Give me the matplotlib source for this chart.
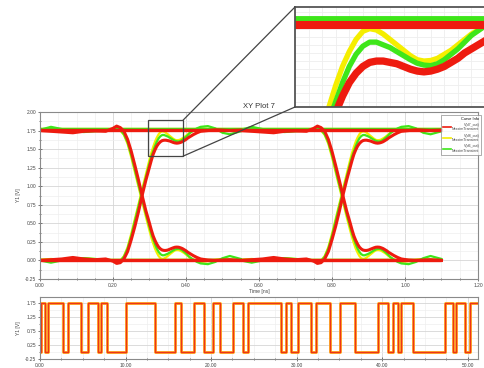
import matplotlib
matplotlib.use("Agg")
import matplotlib.pyplot as plt
from matplotlib.patches import Rectangle, ConnectionPatch
from matplotlib.ticker import MultipleLocator, AutoMinorLocator
from matplotlib.lines import Line2D
import numpy as np

plt.rcParams['font.family'] = ['Liberation Sans', 'DejaVu Sans']

# ---- eye diagram data (one unit interval, times in ns) ----
t_ui = [0.00, 0.03, 0.06, 0.09, 0.12, 0.15, 0.18, 0.20, 0.21, 0.22, 0.23, 0.24,
        0.25, 0.26, 0.27, 0.28, 0.29, 0.30, 0.305, 0.31, 0.315, 0.32, 0.325,
        0.33, 0.335, 0.34, 0.345, 0.35, 0.355, 0.36, 0.365, 0.37, 0.375, 0.38,
        0.385, 0.39, 0.395, 0.40, 0.405, 0.41, 0.42, 0.43, 0.44, 0.46, 0.48,
        0.50, 0.52, 0.55]
ui_starts = [0.00, 0.55]

red_rise = [0.00, 0.01, 0.02, 0.04, 0.02, 0.01, 0.02, -0.01, -0.04, -0.03, 0.02, 0.12,
            0.28, 0.46, 0.66, 0.88, 1.08, 1.26, 1.35, 1.43, 1.49, 1.54, 1.575,
            1.60, 1.615, 1.62, 1.62, 1.615, 1.61, 1.60, 1.59, 1.583, 1.58, 1.583,
            1.59, 1.60, 1.615, 1.63, 1.65, 1.665, 1.695, 1.72, 1.74, 1.75, 1.76,
            1.755, 1.75, 1.755]
yel_rise = [0.01, 0.02, 0.01, 0.02, 0.03, 0.02, 0.01, 0.00, -0.01, 0.00, 0.06, 0.18,
            0.36, 0.56, 0.76, 0.96, 1.16, 1.36, 1.45, 1.53, 1.60, 1.655, 1.70,
            1.73, 1.74, 1.735, 1.72, 1.70, 1.68, 1.66, 1.64, 1.625, 1.62, 1.622,
            1.63, 1.645, 1.66, 1.68, 1.70, 1.72, 1.75, 1.77, 1.78, 1.77, 1.75,
            1.74, 1.75, 1.765]
grn_rise = [0.00, -0.03, 0.00, 0.02, 0.03, 0.02, 0.01, 0.00, -0.02, -0.01, 0.05, 0.16,
            0.33, 0.53, 0.73, 0.93, 1.12, 1.31, 1.40, 1.47, 1.54, 1.60, 1.645,
            1.675, 1.69, 1.69, 1.68, 1.67, 1.655, 1.64, 1.625, 1.612, 1.605, 1.603,
            1.61, 1.625, 1.645, 1.665, 1.69, 1.715, 1.75, 1.78, 1.80, 1.81, 1.78,
            1.72, 1.70, 1.74]

red_fall = [1.75, 1.74, 1.73, 1.72, 1.74, 1.745, 1.74, 1.78, 1.81, 1.79, 1.74, 1.63,
            1.47, 1.28, 1.08, 0.87, 0.67, 0.50, 0.41, 0.33, 0.27, 0.22, 0.18,
            0.155, 0.14, 0.135, 0.135, 0.14, 0.15, 0.16, 0.17, 0.178, 0.18, 0.178,
            0.17, 0.16, 0.145, 0.13, 0.11, 0.095, 0.065, 0.04, 0.02, 0.005, 0.00,
            0.005, 0.01, 0.00]
yel_fall = [1.76, 1.75, 1.76, 1.75, 1.74, 1.75, 1.76, 1.77, 1.78, 1.75, 1.69, 1.57,
            1.39, 1.19, 0.99, 0.79, 0.59, 0.40, 0.31, 0.23, 0.16, 0.105, 0.06,
            0.03, 0.02, 0.025, 0.04, 0.06, 0.08, 0.10, 0.12, 0.135, 0.14, 0.138,
            0.13, 0.115, 0.10, 0.08, 0.06, 0.04, 0.01, -0.01, -0.02, -0.01, 0.01,
            0.02, 0.01, 0.00]
grn_fall = [1.76, 1.80, 1.77, 1.74, 1.73, 1.74, 1.75, 1.76, 1.78, 1.76, 1.70, 1.59,
            1.42, 1.22, 1.02, 0.82, 0.63, 0.45, 0.36, 0.29, 0.22, 0.16, 0.115,
            0.085, 0.07, 0.07, 0.08, 0.09, 0.105, 0.12, 0.135, 0.148, 0.155, 0.157,
            0.15, 0.135, 0.115, 0.095, 0.07, 0.045, 0.01, -0.02, -0.04, -0.05, -0.02,
            0.03, 0.06, 0.02]

# steady levels (long runs of equal bits)
high_level = {'yellow': 1.768, 'green': 1.775, 'red': 1.755}
low_level = {'yellow': 0.006, 'green': 0.010, 'red': 0.000}
t_end = 1.10

# ---- bit stream (bottom plot), edge times in ns and levels in V ----
bit_t = [0.0, 0.15, 0.58, 0.93, 2.69, 3.27, 4.79, 5.61, 6.78, 7.13, 7.83, 10.05,
         13.43, 15.77, 16.47, 17.99, 19.16, 20.21, 21.03, 22.55, 23.71, 24.30,
         28.15, 28.74, 29.32, 30.14, 31.66, 32.24, 33.88, 35.05, 36.80, 39.49,
         40.65, 41.24, 41.82, 42.17, 43.57, 47.31, 48.25, 48.60, 49.65, 50.23, 51.2]
bit_v = [0.0, 1.75, 0.0, 1.75, 0.0, 1.75, 0.0, 1.75, 0.0, 1.75, 0.0, 1.75,
         0.0, 1.75, 0.0, 1.75, 0.0, 1.75, 0.0, 1.75, 0.0, 1.75,
         0.0, 1.75, 0.0, 1.75, 0.0, 1.75, 0.0, 1.75, 0.0, 1.75,
         0.0, 1.75, 0.0, 1.75, 0.0, 1.75, 0.0, 1.75, 0.0, 1.75, 1.75]

series_names = ["V(d7_out)\nNexximTransient", "V(d8_out)\nNexximTransient",
                "V(d6_out)\nNexximTransient"]
colors = {'red': '#ee1b0f', 'yellow': '#f5ee00', 'green': '#3ee61a'}
GRID_MAJ = '#d6d6d6'
GRID_MIN = '#eeeeee'
SPINE = '#8a8a8a'
TXT = '#444444'


def draw_eye(a, scale):
    traces = [('yellow', yel_rise, yel_fall, 1.6),
              ('green', grn_rise, grn_fall, 1.6),
              ('red', red_rise, red_fall, 2.2)]
    for name, rise, fall, lw in traces:
        c = colors[name]
        a.plot([0, t_end], [high_level[name]] * 2, color=c, lw=lw * scale * 1.1,
               solid_capstyle='butt')
        a.plot([0, t_end], [low_level[name]] * 2, color=c, lw=lw * scale * 1.1,
               solid_capstyle='butt')
        for s in ui_starts:
            tt = np.array(t_ui) + s
            a.plot(tt, rise, color=c, lw=lw * scale)
            a.plot(tt, fall, color=c, lw=lw * scale)


fig = plt.figure(figsize=(4.85, 3.68), dpi=100)

# main eye plot
ax = fig.add_axes([40 / 485, 89 / 368, 438 / 485, 167 / 368])
draw_eye(ax, 1.0)
ax.set_xlim(0, 1.2)
ax.set_ylim(-0.25, 2.0)
ax.xaxis.set_major_locator(MultipleLocator(0.2))
ax.xaxis.set_minor_locator(AutoMinorLocator(4))
ax.yaxis.set_major_locator(MultipleLocator(0.25))
ax.yaxis.set_minor_locator(AutoMinorLocator(2))
ax.xaxis.set_major_formatter(lambda v, p: f"{v:.2f}")
ax.yaxis.set_major_formatter(lambda v, p: f"{v:.2f}")
ax.grid(True, which='major', color=GRID_MAJ, lw=0.6)
ax.grid(True, which='minor', color=GRID_MIN, lw=0.5)
ax.set_axisbelow(True)
ax.tick_params(which='both', labelsize=3.5, colors=TXT, direction='inout',
               length=2.5, width=0.5, pad=1.5)
ax.tick_params(which='minor', length=1.5)
for sp in ax.spines.values():
    sp.set_color(SPINE)
    sp.set_linewidth(0.8)
ax.set_xlabel("Time [ns]", fontsize=3.6, color=TXT, labelpad=1)
ax.set_ylabel("Y1 [V]", fontsize=3.6, color=TXT, labelpad=3)
ax.set_title("XY Plot 7", fontsize=5.5, color='#333333', pad=3)

handles = [Line2D([], [], color=colors['red'], lw=1.2),
           Line2D([], [], color=colors['yellow'], lw=1.2),
           Line2D([], [], color=colors['green'], lw=1.2)]
leg = fig.legend(handles, series_names, title="Curve Info", loc='upper right',
                 bbox_to_anchor=(483 / 485, 1 - 113 / 368), fontsize=2.6,
                 title_fontsize=2.8, frameon=True, fancybox=False,
                 handlelength=2.2, borderpad=0.5, labelspacing=0.6,
                 handletextpad=0.4, alignment='right')
leg.get_frame().set_edgecolor('#888888')
leg.get_frame().set_linewidth(0.6)
for tx in leg.get_texts():
    tx.set_ha('right')
    tx.set_color(TXT)

# zoom rectangle + inset
rect_x = (0.296, 0.392)
rect_y = (1.405, 1.89)
ax.add_patch(Rectangle((rect_x[0], rect_y[0]), rect_x[1] - rect_x[0],
                       rect_y[1] - rect_y[0], fill=False, ec='#444444', lw=0.9,
                       zorder=5))

axi = fig.add_axes([295 / 485, 261 / 368, 190 / 485, 100 / 368])
draw_eye(axi, 2.4)
axi.set_xlim(0.282, 0.413)
axi.set_ylim(1.45, 1.82)
axi.xaxis.set_major_locator(MultipleLocator(0.01))
axi.yaxis.set_major_locator(MultipleLocator(0.03))
axi.grid(True, color='#eeeeee', lw=0.6)
axi.set_axisbelow(True)
axi.set_xticks(axi.get_xticks())
axi.tick_params(left=False, bottom=False, labelleft=False, labelbottom=False)
for sp in axi.spines.values():
    sp.set_color('#555555')
    sp.set_linewidth(1.3)

for ya, yb in [(rect_y[1], 1.0), (rect_y[0], 0.0)]:
    con = ConnectionPatch(xyA=(rect_x[1], ya), coordsA=ax.transData,
                          xyB=(0.0, yb), coordsB=axi.transAxes,
                          color='#444444', lw=0.9)
    fig.add_artist(con)

# bottom bit stream plot
axb = fig.add_axes([40 / 485, 9 / 368, 438 / 485, 62 / 368])
axb.step(bit_t, bit_v, where='post', color='#ffae1a', lw=2.0)
axb.step(bit_t, bit_v, where='post', color='#ee3418', lw=1.0)
axb.set_xlim(0, 51.2)
axb.set_ylim(-0.25, 1.95)
axb.set_xticks([0, 10, 20, 30, 40, 50])
axb.xaxis.set_minor_locator(AutoMinorLocator(4))
axb.set_yticks([-0.25, 0.25, 0.75, 1.25, 1.75])
axb.yaxis.set_minor_locator(AutoMinorLocator(2))
axb.xaxis.set_major_formatter(lambda v, p: f"{v:.2f}")
axb.yaxis.set_major_formatter(lambda v, p: f"{v:.2f}")
axb.grid(True, which='major', color=GRID_MAJ, lw=0.6)
axb.grid(True, which='minor', color=GRID_MIN, lw=0.5)
axb.set_axisbelow(True)
axb.tick_params(which='both', labelsize=3.5, colors=TXT, direction='inout',
                length=2.5, width=0.5, pad=1.5)
axb.tick_params(which='minor', length=1.5)
for sp in axb.spines.values():
    sp.set_color(SPINE)
    sp.set_linewidth(0.8)
axb.set_ylabel("Y1 [V]", fontsize=3.6, color=TXT, labelpad=3)

fig.savefig("out.png", dpi=100)
